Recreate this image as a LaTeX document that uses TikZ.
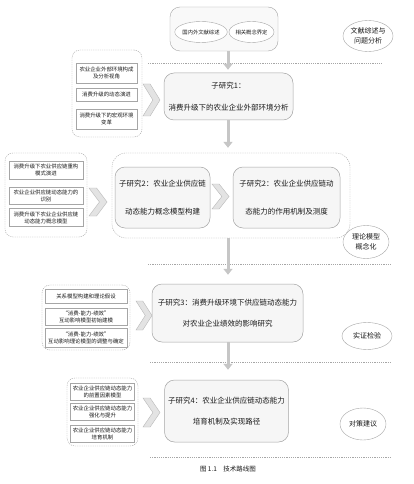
\documentclass[tikz,border=0pt]{standalone}
\usepackage{fontspec}
\setmainfont{Noto Sans CJK SC}
\usetikzlibrary{arrows.meta,shapes.geometric}
\newcommand\mychev[4]{\filldraw[chev] (#1,#2) -- ({#1+0.42*#3},#2) -- ({#1+#3},{#2+#4/2}) -- ({#1+0.42*#3},{#2+#4}) -- (#1,{#2+#4}) -- ({#1+0.58*#3},{#2+#4/2}) -- cycle;}
\begin{document}
\begin{tikzpicture}[x=1pt,y=-1pt,
  every node/.style={text=black!90, inner sep=0pt},
  mainbox/.style={draw=gray!70, line width=0.5pt, rounded corners=10pt, fill=gray!7, font=\fontsize{7.5}{9}\selectfont, align=center},
  smallbox/.style={draw=gray!70, line width=0.4pt, fill=white, font=\fontsize{5.4}{7}\selectfont, align=center},
  holder/.style={draw=gray!70, line width=0.4pt, dash pattern=on 1.2pt off 1pt, rounded corners=8pt},
  topholder/.style={draw=gray!70, line width=0.4pt, rounded corners=10pt, fill=gray!5},
  tag/.style={ellipse, draw=gray!70, line width=0.4pt, fill=white, font=\fontsize{7}{10}\selectfont, align=center},
  smallell/.style={ellipse, draw=gray!70, line width=0.4pt, fill=white, font=\fontsize{5.3}{6}\selectfont},
  blockarr/.style={draw=gray!45, line width=3pt, -{Triangle[width=9pt,length=6pt]}},
  sep/.style={draw=gray!70, line width=0.4pt, dash pattern=on 1.2pt off 1pt},
  chev/.style={draw=gray!55, fill=gray!22, line width=0.4pt}
]
\useasboundingbox (0,0) rectangle (413,484);
\fill[white] (0,0) rectangle (413,484);

% top
\node[topholder, minimum width=108pt, minimum height=44pt] (top) at (224,29) {};
\node[smallell, minimum width=52pt, minimum height=21pt] (lit) at (201,32) {国内外文献综述};
\node[smallell, minimum width=44pt, minimum height=21pt] (con) at (251.5,32) {相关概念界定};
\node[tag, minimum width=50pt, minimum height=31pt] (t1) at (368,36) {文献综述与\\问题分析};

\coordinate (ax) at (228,0);

% separators
\draw[sep] (148,63) -- (383,63);
\draw[sep] (148,264) -- (391,264);
\draw[sep] (150,362) -- (390,362);
\draw[sep] (150,457) -- (390,457);

% stage 1
\node[holder, minimum width=70pt, minimum height=87pt] (c1) at (107,93.5) {};
\node[smallbox, minimum width=61pt, minimum height=20pt] (b11) at (106.5,73) {农业企业外部环境构成\\及分析视角};
\node[smallbox, minimum width=61pt, minimum height=13pt] (b12) at (106.5,94.5) {消费升级的动态演进};
\node[smallbox, minimum width=61pt, minimum height=20pt] (b13) at (106.5,119) {消费升级下的宏观环境\\变革};
\mychev{143}{84}{17}{32}
\node[mainbox, minimum width=129pt, minimum height=47pt] (sub1) at (228.5,96.5) {子研究1：\\[13pt]消费升级下的农业企业外部环境分析};

% stage 2
\node[holder, minimum width=82pt, minimum height=84pt] (c2) at (46,195) {};
\node[smallbox, minimum width=74pt, minimum height=18pt] (b21) at (46,170) {消费升级下农业供应链重构\\模式演进};
\node[smallbox, minimum width=74pt, minimum height=17pt] (b22) at (46,195.5) {农业企业供应链动态能力的\\识别};
\node[smallbox, minimum width=74pt, minimum height=18pt] (b23) at (46,217.5) {消费升级下农业企业供应链\\动态能力概念模型};
\mychev{89}{188}{18}{28}
\node[holder, minimum width=238pt, minimum height=85pt, rounded corners=14pt] (bigc) at (231,195.5) {};
\node[mainbox, minimum width=95pt, minimum height=61pt] (sub2a) at (162.5,197.5) {子研究2：农业企业供应链\\[19pt]动态能力概念模型构建};
\mychev{212}{184}{17}{25}
\node[mainbox, minimum width=107pt, minimum height=61pt] (sub2b) at (286.5,197.5) {子研究2：农业企业供应链动\\[19pt]态能力的作用机制及测度};
\node[tag, minimum width=46pt, minimum height=33pt] (t2) at (366,242) {理论模型\\概念化};

% stage 3
\node[holder, minimum width=88pt, minimum height=65pt] (c3) at (86,317.5) {};
\node[smallbox, minimum width=82pt, minimum height=14pt] (b31) at (86,296) {关系模型构建和理论假设};
\node[smallbox, minimum width=82pt, minimum height=17pt] (b32) at (86,316.5) {“消费-能力-绩效”\\互动影响模型初始建模};
\node[smallbox, minimum width=82pt, minimum height=19pt] (b33) at (86,337.5) {“消费-能力-绩效”\\互动影响理论模型的调整与确定};
\mychev{136}{301}{16}{29}
\node[mainbox, minimum width=151pt, minimum height=58pt] (sub3) at (227.5,313) {子研究3：消费升级环境下供应链动态能力\\[12pt]对农业企业绩效的影响研究};
\node[tag, minimum width=50pt, minimum height=27pt] (t3) at (367,336) {实证检验};

% stage 4
\node[holder, minimum width=71pt, minimum height=68pt] (c4) at (102.5,412) {};
\node[smallbox, minimum width=64pt, minimum height=17pt] (b41) at (102.5,391.5) {农业企业供应链动态能力\\的前置因素模型};
\node[smallbox, minimum width=64pt, minimum height=17pt] (b42) at (102.5,411.5) {农业企业供应链动态能力\\强化与提升};
\node[smallbox, minimum width=64pt, minimum height=17pt] (b43) at (102.5,433.5) {农业企业供应链动态能力\\培育机制};
\mychev{143}{398}{17}{29}
\node[mainbox, minimum width=124pt, minimum height=62pt] (sub4) at (226.5,411) {子研究4：农业企业供应链动态能力\\[12pt]培育机制及实现路径};
\node[tag, minimum width=46pt, minimum height=32pt] (t4) at (363,424) {对策建议};

% arrows
\draw[blockarr, shorten >=3pt] (top.south -| ax) -- (sub1.north -| ax);
\draw[blockarr, shorten >=5pt] (sub1.south -| ax) -- (bigc.north -| ax);
\draw[blockarr, shorten >=9pt] (bigc.south -| ax) -- (sub3.north -| ax);
\draw[blockarr, shorten >=10pt] (sub3.south -| ax) -- (sub4.north -| ax);

% caption
\node[font=\fontsize{6.5}{8}\selectfont] (cap) at (228,469) {图 1.1\quad 技术路线图};
\end{tikzpicture}
\end{document}
